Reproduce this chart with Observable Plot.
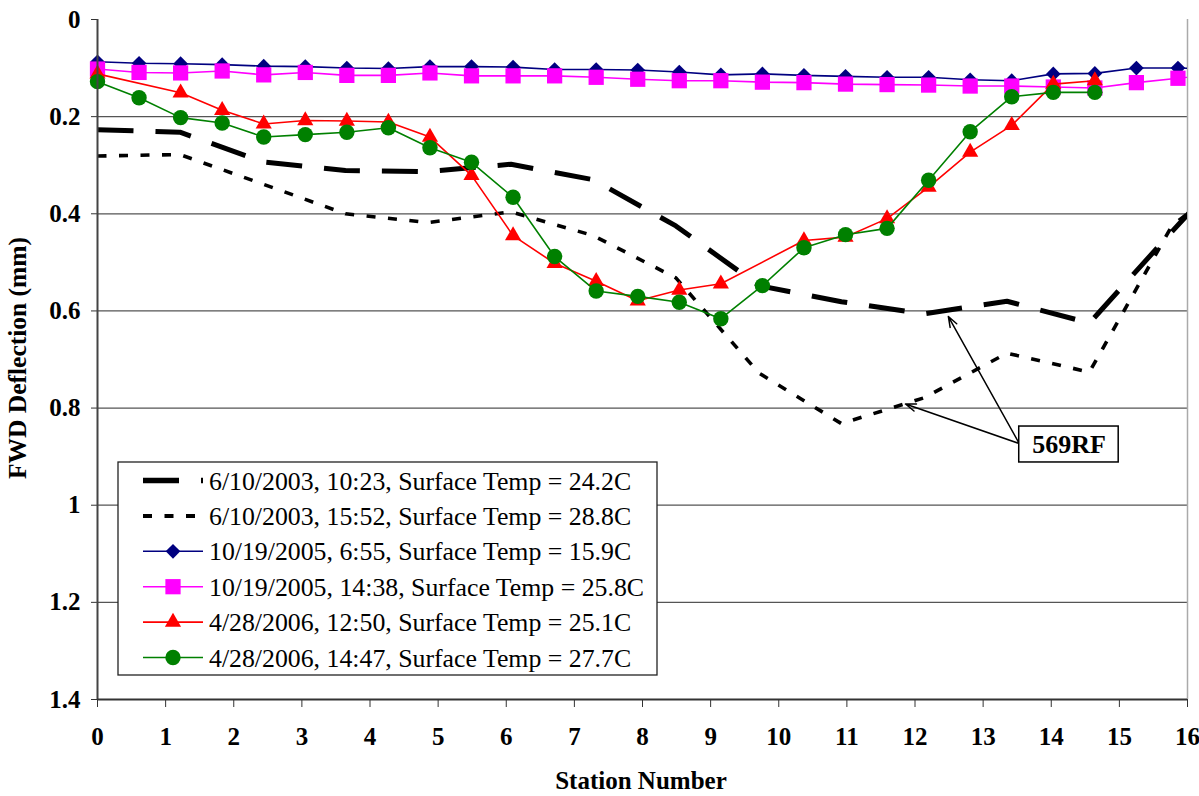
<!DOCTYPE html>
<html><head><meta charset="utf-8">
<script src="https://cdn.jsdelivr.net/npm/d3@7"></script>
<script src="https://cdn.jsdelivr.net/npm/@observablehq/plot@0.6"></script>
<style>
html,body{margin:0;padding:0;background:#fff;}
#chart svg{display:block;}
g[aria-label="x-axis tick label"], g[aria-label="y-axis tick label"]{font-weight:bold;font-size:25px;}
</style>
</head><body><div id="chart"></div>
<script>
// ---------- data ----------
const xTicks = [0,1,2,3,4,5,6,7,8,9,10,11,12,13,14,15,16];
const yTicks = [0,0.2,0.4,0.6,0.8,1,1.2,1.4];

const legendLabels = [
  "6/10/2003, 10:23, Surface Temp = 24.2C",
  "6/10/2003, 15:52, Surface Temp = 28.8C",
  "10/19/2005, 6:55, Surface Temp = 15.9C",
  "10/19/2005, 14:38, Surface Temp = 25.8C",
  "4/28/2006, 12:50, Surface Temp = 25.1C",
  "4/28/2006, 14:47, Surface Temp = 27.7C"
];

// stations of the 2003 runs
const stations2003 = [0, 1.21, 2.43, 3.64, 4.85, 6.07, 7.28, 8.49, 9.71, 10.92, 12.13, 13.35, 14.56, 15.77, 16.99];
const run2003a = [0.227, 0.232, 0.293, 0.311, 0.313, 0.298, 0.330, 0.425, 0.548, 0.581, 0.606, 0.580, 0.625, 0.437, 0.250];
const run2003b = [0.281, 0.278, 0.339, 0.400, 0.418, 0.396, 0.445, 0.532, 0.728, 0.832, 0.779, 0.687, 0.726, 0.425, 0.290];

// stations of the 2005/2006 runs
const stations = [0, 0.61, 1.22, 1.83, 2.44, 3.05, 3.66, 4.27, 4.88, 5.49, 6.10, 6.71, 7.32, 7.93, 8.54, 9.15, 9.76, 10.37, 10.98, 11.59, 12.20, 12.81, 13.42, 14.03, 14.64, 15.25, 15.86, 16.47];
const run2005a = [0.087,0.090,0.091,0.093,0.096,0.097,0.100,0.101,0.097,0.097,0.098,0.103,0.103,0.104,0.108,0.114,0.112,0.115,0.117,0.119,0.119,0.124,0.126,0.112,0.111,0.100,0.100,0.102];
const run2005b = [0.102,0.109,0.110,0.106,0.114,0.109,0.115,0.115,0.110,0.116,0.116,0.116,0.119,0.123,0.126,0.126,0.129,0.130,0.133,0.134,0.135,0.137,0.137,0.139,0.141,0.130,0.121,0.112];
const run2006a = [0.112,null,0.151,0.187,0.215,0.208,0.209,0.211,0.242,0.321,0.445,0.502,0.539,0.579,0.557,0.544,null,0.455,0.448,0.410,0.345,0.273,0.218,0.133,0.126];
const run2006b = [0.128,0.161,0.202,0.213,0.242,0.237,0.232,0.223,0.264,0.294,0.366,0.488,0.559,0.570,0.582,0.616,0.548,0.470,0.443,0.430,0.331,0.231,0.159,0.150,0.150];

// annotation "569RF"
const noteText = "569RF";
const noteBox = {x1: 13.53, x2: 14.99, y1: 0.838, y2: 0.912};
const noteFrom = [13.53, 0.873];
const noteTargets = [[12.49, 0.6115], [11.86, 0.7917]];

// ---------- build ----------
function rows(xs, ys){ return ys.map((y,i)=>({x: xs[i], y})).filter(d => d.y != null); }

const series = [
  {label: legendLabels[0], data: rows(stations2003, run2003a), color: "#000", width: 5, dash: "36,22", symbol: null},
  {label: legendLabels[1], data: rows(stations2003, run2003b), color: "#000", width: 3.6, dash: "9,12.5", symbol: null},
  {label: legendLabels[2], data: rows(stations, run2005a), color: "#000080", width: 1.6, dash: null, symbol: "diamond2", r: 6.6, d3sym: d3.symbolDiamond2},
  {label: legendLabels[3], data: rows(stations, run2005b), color: "#FF00FF", width: 1.6, dash: null, symbol: "square", r: 8.6, d3sym: d3.symbolSquare},
  {label: legendLabels[4], data: rows(stations, run2006a), color: "#FF0000", width: 1.6, dash: null, symbol: "triangle", r: 6.0, d3sym: d3.symbolTriangle},
  {label: legendLabels[5], data: rows(stations, run2006b), color: "#008000", width: 1.6, dash: null, symbol: "circle", r: 7.7, d3sym: d3.symbolCircle}
];

const seriesMarks = [];
for (const s of series) {
  seriesMarks.push(Plot.line(s.data, {x: "x", y: "y", stroke: s.color, strokeWidth: s.width,
    strokeDasharray: s.dash || undefined, strokeLinecap: "butt", strokeLinejoin: "miter", clip: true}));
  if (s.symbol) {
    seriesMarks.push(Plot.dot(s.data.filter(d => d.x <= 16), {x: "x", y: "y", symbol: s.symbol, r: s.r, fill: s.color, stroke: "none"}));
  }
}

const font = "'Liberation Serif','Times New Roman',serif";

const chart = Plot.plot({
  width: 1199, height: 796,
  marginTop: 19, marginRight: 12, marginBottom: 97, marginLeft: 97,
  style: {fontFamily: font, fontSize: "25px", color: "#000", background: "#fff", overflow: "visible"},
  x: {domain: [0, 16]},
  y: {domain: [0, 1.4], reverse: true},
  marks: [
    Plot.gridY(yTicks.filter(v => v > 0 && v < 1.4), {stroke: "#555", strokeOpacity: 1, strokeWidth: 1.3}),
    Plot.ruleX([16], {stroke: "#aaa", strokeWidth: 1.5}),
    Plot.axisY({ticks: yTicks, tickSize: 6, tickPadding: 11, tickFormat: d => String(+d.toFixed(1)), fontSize: 25, fontWeight: "bold", label: null, stroke: "#333"}),
    Plot.axisX({ticks: xTicks, tickSize: 8, tickPadding: 20, tickFormat: d => String(d), fontSize: 25, fontWeight: "bold", label: null, stroke: "#333"}),
    ...seriesMarks,
    Plot.ruleX([0], {stroke: "#444", strokeWidth: 2}),
    Plot.ruleY([1.4], {stroke: "#333", strokeWidth: 2}),
    Plot.arrow(noteTargets, {x1: () => noteFrom[0], y1: () => noteFrom[1], x2: d => d[0], y2: d => d[1],
      stroke: "#000", strokeWidth: 1.5, headLength: 11, headAngle: 40}),
    Plot.rect([noteBox], {x1: "x1", x2: "x2", y1: "y1", y2: "y2", fill: "#fff", stroke: "#000", strokeWidth: 1.5}),
    Plot.text([noteBox], {x: d => (d.x1 + d.x2) / 2, y: d => (d.y1 + d.y2) / 2, text: () => noteText,
      fontSize: 26, fontWeight: "bold", fill: "#000"})
  ]
});

document.getElementById("chart").appendChild(chart);

// ---------- titles & legend ----------
const svg = d3.select(chart);
svg.append("text").attr("x", 641).attr("y", 789).attr("text-anchor", "middle")
  .attr("font-family", font).attr("font-size", 25).attr("font-weight", "bold").text("Station Number");
svg.append("text").attr("transform", "translate(26,358) rotate(-90)").attr("text-anchor", "middle")
  .attr("font-family", font).attr("font-size", 25.5).attr("font-weight", "bold").text("FWD Deflection (mm)");

const lg = svg.append("g").attr("text-anchor", "start");
lg.append("rect").attr("x", 118).attr("y", 462).attr("width", 539).attr("height", 213)
  .attr("fill", "#fff").attr("stroke", "#222").attr("stroke-width", 1.3);
series.forEach((s, i) => {
  const cy = 480.5 + i * 35.4;
  lg.append("line").attr("x1", 143).attr("x2", 203).attr("y1", cy).attr("y2", cy)
    .attr("stroke", s.color).attr("stroke-width", s.symbol ? s.width : s.width + 0.4)
    .attr("stroke-dasharray", s.dash).attr("stroke-linecap", "butt");
  if (s.symbol) {
    lg.append("path").attr("d", d3.symbol(s.d3sym, s.r * s.r * Math.PI)())
      .attr("transform", `translate(173,${cy})`).attr("fill", s.color);
  }
  lg.append("text").attr("x", 209).attr("y", cy).attr("dy", "0.35em").attr("text-anchor", "start")
    .attr("font-family", font).attr("font-size", 25.8).attr("fill", "#000").text(s.label);
});
</script>
</body></html>
